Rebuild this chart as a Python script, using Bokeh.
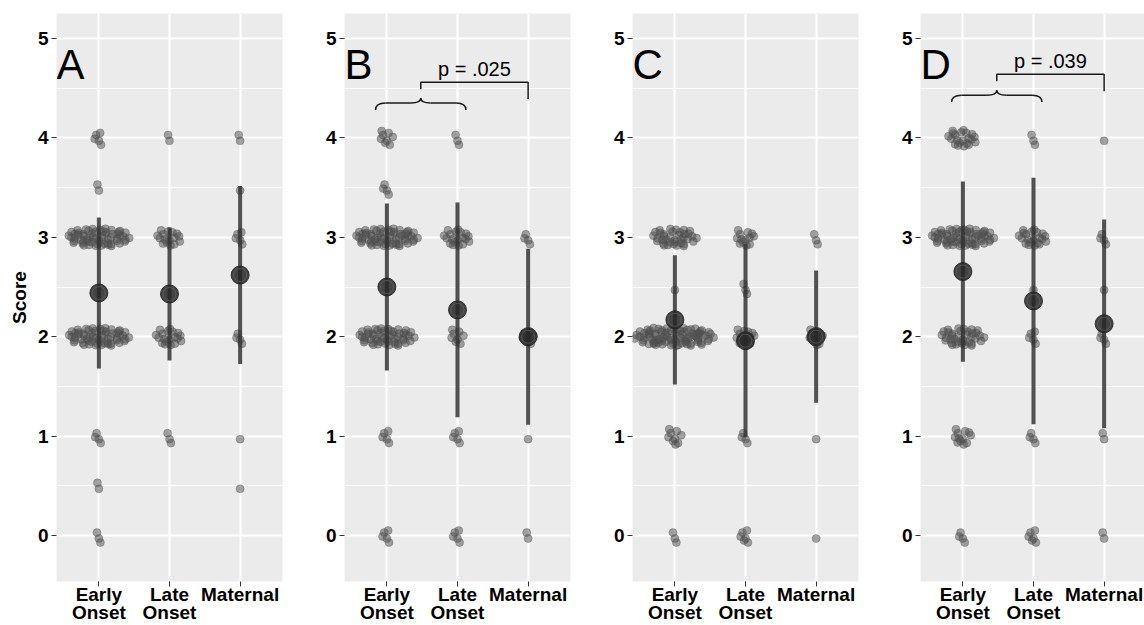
import math
from bokeh.plotting import figure
from bokeh.layouts import row
from bokeh.models import Range1d, FixedTicker, LinearAxis
from bokeh.embed import file_html
from bokeh.resources import INLINE
from bokeh.core.properties import value

# ---------------- data ----------------
categories = ["Early\nOnset", "Late\nOnset", "Maternal"]
panel_letters = ["A", "B", "C", "D"]
score_levels = [0, 0.5, 1, 2, 2.5, 3, 3.5, 4]

# number of participants at each score level (order of score_levels)
A_early = [3, 2, 4, 59, 0, 60, 2, 5]
A_late = [0, 0, 3, 19, 0, 16, 0, 2]
A_maternal = [0, 1, 1, 4, 0, 5, 1, 2]
B_early = [5, 0, 5, 52, 0, 61, 4, 8]
B_late = [5, 0, 5, 8, 0, 19, 0, 3]
B_maternal = [2, 0, 1, 7, 0, 4, 0, 0]
C_early = [3, 0, 9, 85, 1, 37, 0, 0]
C_late = [6, 0, 4, 14, 3, 13, 0, 0]
C_maternal = [1, 0, 1, 9, 0, 3, 0, 0]
D_early = [4, 0, 12, 36, 0, 62, 0, 21]
D_late = [6, 0, 4, 5, 1, 21, 0, 3]
D_maternal = [2, 0, 2, 4, 1, 4, 0, 1]

# group mean and SD
A_mean = [2.44, 2.43, 2.62]
A_sd = [0.76, 0.67, 0.895]
B_mean = [2.50, 2.27, 2.00]
B_sd = [0.84, 1.08, 0.885]
C_mean = [2.17, 1.96, 2.00]
C_sd = [0.65, 0.97, 0.665]
D_mean = [2.655, 2.36, 2.13]
D_sd = [0.906, 1.24, 1.05]

# comparison annotations (Early+Late vs Maternal)
p_labels = [None, "p = .025", None, "p = .039"]
brace_base = [None, 4.28, None, 4.36]

# ---------------- layout helpers ----------------
Y0, Y1 = -0.462, 5.251
FRAME_H = 569
PX_X = 226 / 3.2
PX_Y = FRAME_H / (Y1 - Y0)
JIT = 0.09
FONT = "Liberation Sans"
line1 = [c.split("\n")[0] for c in categories]
line2 = [c.split("\n")[1] if "\n" in c else "" for c in categories]


def vdc(k, b):
    v, denom = 0.0, 1.0
    while k:
        k, r = divmod(k, b)
        denom *= b
        v += r / denom
    return v


def cloud(n):
    """quasirandom (Halton) lens-shaped cloud of n points: offsets in data units"""
    half_w = 5.7 * (n / 5.0) ** 0.7
    dxs, dys = [], []
    for k in range(1, n + 1):
        v = 2 * vdc(k, 3) - 1
        u = 2 * vdc(k, 2) - 1
        dys.append(JIT * v)
        dxs.append(half_w * u * math.sqrt(max(0.0, 1 - (0.85 * v) ** 2)) / PX_X)
    return dxs, dys


def style_labels(ax):
    ax.major_label_text_font = FONT
    ax.major_label_text_font_style = "bold"
    ax.major_label_text_font_size = "19px"
    ax.major_label_text_color = "black"
    ax.axis_line_color = None
    ax.minor_tick_line_color = None


panels = [
    ([A_early, A_late, A_maternal], A_mean, A_sd),
    ([B_early, B_late, B_maternal], B_mean, B_sd),
    ([C_early, C_late, C_maternal], C_mean, C_sd),
    ([D_early, D_late, D_maternal], D_mean, D_sd),
]

figs = []
for idx, (groups, means, sds) in enumerate(panels):
    fw = 226 if idx < 3 else 224
    rb = 6 if idx < 3 else 0
    p = figure(width=56 + fw + rb, height=625,
               x_range=Range1d(0.4, 0.4 + fw / PX_X), y_range=Range1d(Y0, Y1),
               output_backend="svg", toolbar_location=None,
               min_border_left=56, min_border_right=rb,
               min_border_top=13, min_border_bottom=43)
    p.background_fill_color = "#EBEBEB"
    p.border_fill_color = "white"
    p.outline_line_color = None

    p.xaxis.ticker = FixedTicker(ticks=[1, 2, 3])
    p.xaxis.major_label_overrides = {i + 1: c for i, c in enumerate(line1)}
    p.yaxis.ticker = FixedTicker(ticks=[0, 1, 2, 3, 4, 5])
    p.xgrid.ticker = FixedTicker(ticks=[1, 2, 3])
    p.ygrid.ticker = FixedTicker(ticks=[0, 1, 2, 3, 4, 5], minor_ticks=[0.5, 1.5, 2.5, 3.5, 4.5])
    p.grid.grid_line_color = "white"
    p.grid.grid_line_width = 2
    p.ygrid.minor_grid_line_color = "white"
    p.ygrid.minor_grid_line_width = 1

    for ax in (p.xaxis[0], p.yaxis[0]):
        style_labels(ax)
        ax.major_tick_line_color = "#333333"
        ax.major_tick_out = 5
        ax.major_tick_in = 0
    p.xaxis.major_label_standoff = -3
    p.yaxis.major_label_standoff = 3
    if idx == 0:
        p.yaxis.axis_label = "Score"
        p.yaxis.axis_label_text_font = FONT
        p.yaxis.axis_label_text_font_style = "bold"
        p.yaxis.axis_label_text_font_size = "19px"
        p.yaxis.axis_label_text_color = "black"
        p.yaxis.axis_label_standoff = 5

    # second line of the category labels, as an extra label-only axis below
    ticks2 = [i + 1 for i, t in enumerate(line2) if t]
    ax2 = LinearAxis(ticker=FixedTicker(ticks=ticks2),
                     major_label_overrides={i + 1: t for i, t in enumerate(line2) if t})
    style_labels(ax2)
    ax2.major_tick_line_color = None
    ax2.major_tick_out = 0
    ax2.major_tick_in = 0
    ax2.major_label_standoff = -6
    p.add_layout(ax2, "below")

    # points
    px_all, py_all = [], []
    for gi, counts in enumerate(groups):
        for lvl, cnt in zip(score_levels, counts):
            if cnt == 0:
                continue
            dxs, dys = cloud(cnt)
            px_all += [gi + 1 + dx for dx in dxs]
            py_all += [lvl + dy for dy in dys]
    p.scatter(px_all, py_all, size=8, fill_color="#4d4d4d", fill_alpha=0.5,
              line_color="#4d4d4d", line_alpha=0.55, line_width=0.6)

    gx = [1, 2, 3]
    p.segment(x0=gx, y0=[m - s for m, s in zip(means, sds)], x1=gx,
              y1=[m + s for m, s in zip(means, sds)],
              line_width=4, line_color="#333333", line_alpha=0.85)
    p.scatter(gx, means, size=18, fill_color="#262626", fill_alpha=0.85,
              line_color="#262626", line_alpha=0.9)
    p.scatter(gx, means, size=13, fill_color=None, line_color="#6a6a6a",
              line_width=1, line_alpha=0.6)

    # panel letter
    p.text(x=[0.4], y=[4.74], text=[panel_letters[idx]], text_font=value(FONT),
           text_font_size="42px", text_baseline="middle", text_align="left",
           text_color="black")

    # comparison brace + bracket
    if p_labels[idx] is not None:
        base = brace_base[idx]
        xl, xr = 0.84, 2.12
        xc = (xl + xr) / 2
        a = 0.14
        arm, tip = base + 0.07, base + 0.12
        col, lw = "#1a1a1a", 1.5
        p.quadratic(x0=[xl, xc - a, xc, xr - a], y0=[base, arm, tip, arm],
                    x1=[xl + a, xc, xc + a, xr], y1=[arm, tip, arm, base],
                    cx=[xl, xc, xc, xr], cy=[arm, arm, arm, arm],
                    line_color=col, line_width=lw)
        p.segment(x0=[xl + a, xc + a], y0=[arm, arm], x1=[xc - a, xr - a], y1=[arm, arm],
                  line_color=col, line_width=lw)
        top = base + 0.28
        p.line([xc, xc, 3, 3], [base + 0.21, top, top, base + 0.11],
               line_color=col, line_width=lw)
        p.text(x=[(xc + 3) / 2], y=[base + 0.415], text=[p_labels[idx]],
               text_font=value(FONT), text_font_size="20px",
               text_baseline="middle", text_align="center", text_color="black")
    figs.append(p)

layout = row(*figs, spacing=0)
open("out.html", "w").write(file_html(layout, INLINE))
